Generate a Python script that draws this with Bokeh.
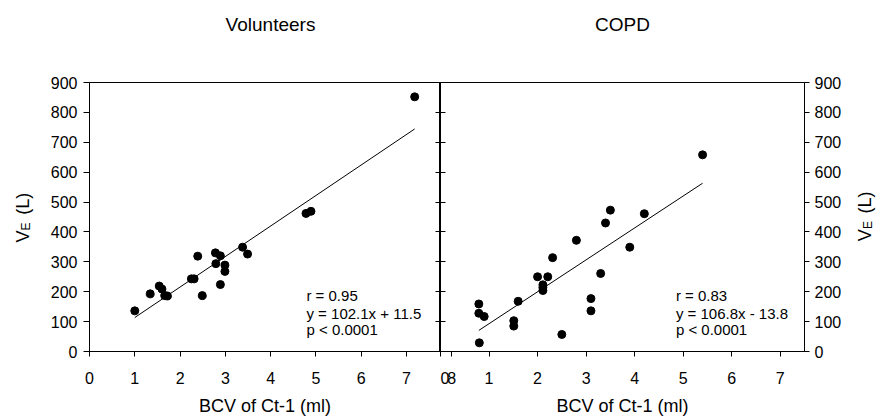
import numpy as np
from bokeh.plotting import figure
from bokeh.layouts import row, column
from bokeh.models import Range1d, LinearAxis, FixedTicker, Label
from bokeh.embed import file_html
from bokeh.resources import INLINE

FONT = "Liberation Sans"

# ---- data ----
vol_x = [1.00, 1.34, 1.54, 1.60, 1.66, 1.72, 2.25, 2.31, 2.39, 2.49, 2.78,
         2.79, 2.89, 2.89, 2.99, 2.99, 3.38, 3.49, 4.78, 4.89, 7.18]
vol_y = [136, 193, 219, 209, 187, 186, 243, 243, 319, 187, 330,
         294, 320, 224, 289, 268, 349, 326, 462, 469, 852]
copd_x = [0.79, 0.79, 0.90, 0.80, 1.51, 1.51, 1.60, 2.00, 2.11, 2.11, 2.11,
          2.21, 2.31, 2.50, 2.80, 3.10, 3.10, 3.30, 3.40, 3.50, 3.90, 4.20, 5.40]
copd_y = [159, 128, 117, 29, 103, 85, 168, 250, 223, 214, 204,
          250, 314, 57, 372, 177, 136, 261, 430, 473, 349, 461, 658]

vol_fit = (102.1, 11.5)
copd_fit = (106.8, -13.8)
vol_stats = ["r  = 0.95", "y = 102.1x + 11.5", "p < 0.0001"]
copd_stats = ["r  = 0.83", "y = 106.8x - 13.8", "p < 0.0001"]

x_ticks = [0, 1, 2, 3, 4, 5, 6, 7]
y_ticks = [0, 100, 200, 300, 400, 500, 600, 700, 800, 900]
titles = ["Volunteers", "COPD"]
x_title = "BCV of Ct-1 (ml)"
y_title = ("V", "E", "(L)")

LEFT_XMAX = 7.75
RIGHT_XMAX = 7.5
LEFT_FRAME_W = 351
RIGHT_FRAME_W = 364

TOP_H = 40        # title strip
MAIN_H = 378      # panels row
W_TOTAL = 876


def style_common(p):
    p.outline_line_color = "black"
    p.outline_line_width = 1
    p.xgrid.visible = False
    p.ygrid.visible = False
    p.background_fill_color = "white"
    p.border_fill_color = "white"


def style_axis(ax, tick_out=5, tick_in=0, standoff=8, font="16px"):
    ax.axis_line_color = "black"
    ax.major_tick_line_color = "black"
    ax.minor_tick_line_color = None
    ax.major_tick_out = tick_out
    ax.major_tick_in = tick_in
    ax.major_label_standoff = standoff
    ax.major_label_text_font = FONT
    ax.major_label_text_font_size = font
    ax.major_label_text_color = "black"


def style_xtitle(ax):
    ax.axis_label = x_title
    ax.axis_label_text_font = FONT
    ax.axis_label_text_font_size = "18px"
    ax.axis_label_text_font_style = "normal"
    ax.axis_label_text_color = "black"
    ax.axis_label_standoff = 9


def hidden_axis(ticks):
    ax = LinearAxis(ticker=FixedTicker(ticks=ticks))
    style_axis(ax, tick_out=0, tick_in=5, standoff=0, font="0px")
    ax.major_label_text_color = None
    return ax


def add_stats(p, x, lines):
    ys = [187, 127, 72]
    for t, yv in zip(lines, ys):
        p.add_layout(Label(x=x, y=yv, text=t, text_font=FONT, text_font_size="15px",
                           text_align="left", text_baseline="middle", text_color="black"))


def text_strip(width, height):
    s = figure(width=width, height=height, x_range=Range1d(0, width), y_range=Range1d(0, height),
               output_backend="svg", toolbar_location=None, x_axis_location=None,
               y_axis_location=None, min_border=0, outline_line_color=None)
    s.xgrid.visible = False
    s.ygrid.visible = False
    return s


def add_ylabel(s, xb, y_start):
    # rotated "V_E (L)" reading upward (strip coordinates are pixels)
    parts = [(y_title[0], 0, 0, "18px"), (y_title[1], 17, 3, "12px"), (y_title[2], 39, 0, "18px")]
    for txt, dy, dx, fs in parts:
        s.add_layout(Label(x=xb + dx, y=y_start + dy, text=txt, angle=np.pi / 2,
                           text_font=FONT, text_font_size=fs, text_align="left",
                           text_baseline="alphabetic", text_color="black"))


# ---- title strip ----
top = text_strip(W_TOTAL, TOP_H)
top.add_layout(Label(x=270, y=TOP_H - 24, text=titles[0], text_font=FONT, text_font_size="19px",
                     text_align="center", text_baseline="middle", text_color="black"))
top.add_layout(Label(x=622, y=TOP_H - 24, text=titles[1], text_font=FONT, text_font_size="19px",
                     text_align="center", text_baseline="middle", text_color="black"))

# ---- left y-title strip ----
lab_l = text_strip(40, MAIN_H)
add_ylabel(lab_l, 22, (TOP_H + MAIN_H) - 265)

# ---- left panel: Volunteers ----
left = figure(width=49 + LEFT_FRAME_W, height=MAIN_H, x_range=Range1d(0, LEFT_XMAX),
              y_range=Range1d(0, 900), output_backend="svg", toolbar_location=None,
              min_border_left=49, min_border_right=0, min_border_top=42, min_border_bottom=67)
style_common(left)
left.xaxis.ticker = FixedTicker(ticks=x_ticks)
left.yaxis.ticker = FixedTicker(ticks=y_ticks)
style_axis(left.xaxis[0], tick_out=5, standoff=15)
style_axis(left.yaxis[0], tick_out=6, standoff=6)
style_xtitle(left.xaxis[0])
left.add_layout(hidden_axis(y_ticks), "right")

left.scatter(vol_x, vol_y, size=8, color="black")
vx0, vx1 = min(vol_x), max(vol_x)
left.line([vx0, vx1], [vol_fit[0] * vx0 + vol_fit[1], vol_fit[0] * vx1 + vol_fit[1]],
          line_color="black", line_width=1)
add_stats(left, 4.79, vol_stats)

# ---- right panel: COPD ----
right = figure(width=RIGHT_FRAME_W + 42, height=MAIN_H, x_range=Range1d(0, RIGHT_XMAX),
               y_range=Range1d(0, 900), output_backend="svg", toolbar_location=None,
               y_axis_location="right",
               min_border_left=0, min_border_right=42, min_border_top=42, min_border_bottom=67)
style_common(right)
# the left panel's "8" tick spills over the shared edge onto this panel
left8 = (8 - LEFT_XMAX) * (LEFT_FRAME_W / LEFT_XMAX) / (RIGHT_FRAME_W / RIGHT_XMAX)
left8 = round(left8, 2)
right.xaxis.ticker = FixedTicker(ticks=x_ticks + [left8])
overrides = {t: str(t) for t in x_ticks}
overrides[left8] = "8"
right.xaxis.major_label_overrides = overrides
right.yaxis.ticker = FixedTicker(ticks=y_ticks)
style_axis(right.xaxis[0], tick_out=5, standoff=15)
style_axis(right.yaxis[0], tick_out=5, standoff=5)
style_xtitle(right.xaxis[0])
right.add_layout(hidden_axis(y_ticks), "left")

right.scatter(copd_x, copd_y, size=8, color="black")
cx0, cx1 = min(copd_x), max(copd_x)
right.line([cx0, cx1], [copd_fit[0] * cx0 + copd_fit[1], copd_fit[0] * cx1 + copd_fit[1]],
           line_color="black", line_width=1)
add_stats(right, 4.85, copd_stats)

# ---- right y-title strip ----
rw = W_TOTAL - 40 - (49 + LEFT_FRAME_W) - (RIGHT_FRAME_W + 42)
lab_r = text_strip(rw, MAIN_H)
add_ylabel(lab_r, 18, (TOP_H + MAIN_H) - 263)

layout = column(top, row(lab_l, left, right, lab_r))
open("out.html", "w").write(file_html(layout, INLINE))
